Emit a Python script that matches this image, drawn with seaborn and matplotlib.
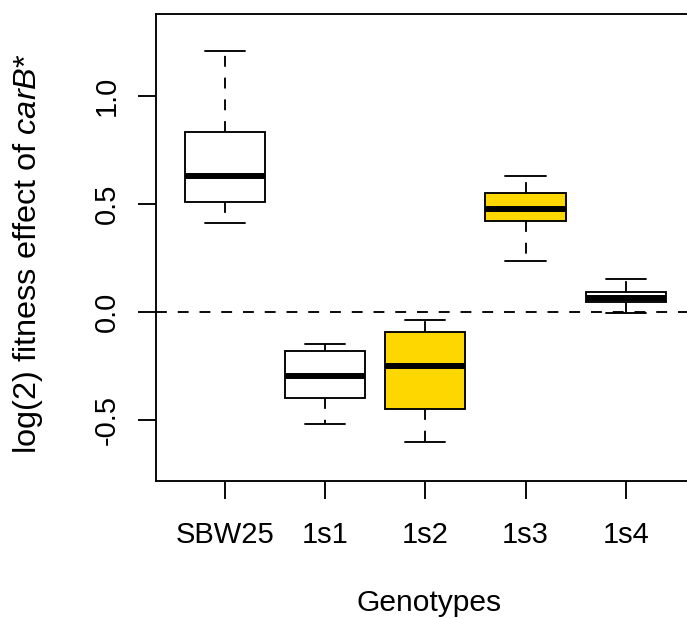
import matplotlib
matplotlib.use("Agg")
import matplotlib.pyplot as plt
import seaborn as sns
import pandas as pd

# ---- data ----
genotypes = ["SBW25", "1s1", "1s2", "1s3", "1s4"]
whisker_low = [0.414, -0.515, -0.598, 0.239, -0.003]
quart_1 = [0.509, -0.396, -0.446, 0.422, 0.049]
medians = [0.630, -0.294, -0.247, 0.478, 0.066]
quart_3 = [0.835, -0.179, -0.090, 0.550, 0.092]
whisker_high = [1.209, -0.145, -0.037, 0.629, 0.155]
fill_colors = ["white", "white", "#FFD700", "#FFD700", "white"]
ytick_values = [-0.5, 0.0, 0.5, 1.0]
ytick_labels = ["-0.5", "0.0", "0.5", "1.0"]

rows = []
for g, a, b, c, d, e in zip(genotypes, whisker_low, quart_1, medians, quart_3, whisker_high):
    for v in (a, b, c, d, e):
        rows.append({"genotype": g, "value": v})
df = pd.DataFrame(rows)

sns.set_theme(style="white")
plt.rcParams["font.family"] = ["Liberation Sans", "DejaVu Sans"]
plt.rcParams["mathtext.fontset"] = "custom"
plt.rcParams["mathtext.rm"] = "Liberation Sans"
plt.rcParams["mathtext.it"] = "Liberation Sans:italic"
plt.rcParams["axes.unicode_minus"] = False

DPI = 100
fig = plt.figure(figsize=(6.87, 6.19), dpi=DPI)
ax = fig.add_axes([0.2271, 0.2234, 0.7856, 0.7540])

lw = 1.35
dash = (0, (5.8, 5.8))
ax.axhline(0, color="black", lw=lw, linestyle=dash, zorder=1)

sns.boxplot(
    data=df, x="genotype", y="value", hue="genotype", order=genotypes,
    palette=dict(zip(genotypes, fill_colors)), saturation=1, legend=False,
    whis=(0, 100), width=0.8, linecolor="black", linewidth=lw, ax=ax,
    medianprops={"linewidth": 4.3, "color": "black", "solid_capstyle": "butt"},
    whiskerprops={"linestyle": dash, "color": "black", "linewidth": lw},
    capprops={"color": "black", "linewidth": lw},
    boxprops={"edgecolor": "black", "linewidth": lw},
)

ax.set_xlim(-0.69, 4.7)
ax.set_ylim(-0.7786, 1.379)
ax.set_yticks(ytick_values)
ax.set_yticklabels(ytick_labels, rotation=90, va="center")

for s in ax.spines.values():
    s.set_visible(True)
    s.set_color("black")
    s.set_linewidth(lw)

ax.tick_params(axis="both", which="major", direction="out", length=12.96, width=lw,
               color="black", labelsize=21, labelcolor="black", left=True, bottom=True)
ax.tick_params(axis="y", pad=12.5)
ax.tick_params(axis="x", pad=16.2)

ax.set_xlabel("Genotypes", fontsize=21.6, color="black")
ax.set_ylabel(r"log(2) fitness effect of $\mathit{carB}$*", fontsize=23.4,
              color="black", ha="left")
ax.xaxis.set_label_coords(0.505, -0.2320)
ax.yaxis.set_label_coords(-0.206, 0.057)
ax.grid(False)

fig.savefig("out.png", dpi=DPI)
